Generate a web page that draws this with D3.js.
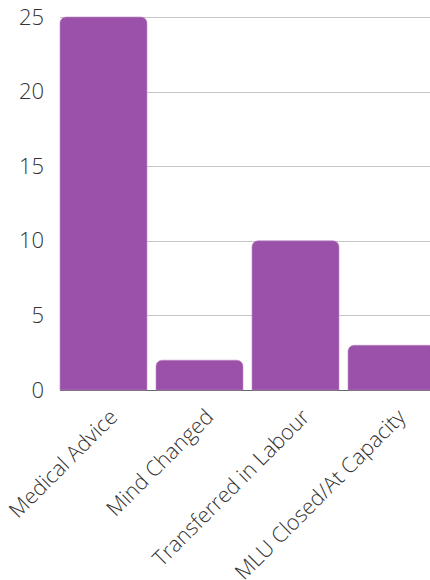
<!DOCTYPE html>
<html>
<head>
<meta charset="utf-8">
<script src="https://cdn.jsdelivr.net/npm/d3@7"></script>
<style>
  html, body { margin: 0; padding: 0; background: #fff; overflow: hidden; }
  svg { display: block; font-family: "Open Sans", sans-serif; }
</style>
</head>
<body>
<svg id="chart" width="430" height="580"></svg>
<script>
// Reasons for transfer / change of birth place
const categories = ["Medical Advice", "Mind Changed", "Transferred in Labour", "MLU Closed/At Capacity"];
const counts = [25, 2, 10, 3];
const yTicks = [0, 5, 10, 15, 20, 25];

const svg = d3.select("#chart");
const plotLeft = 60, plotRight = 435, plotTop = 17, plotBottom = 390;

const x = d3.scaleBand()
  .domain(categories)
  .range([plotLeft, plotRight])
  .paddingInner(0.094)
  .paddingOuter(0);

const y = d3.scaleLinear().domain([0, 25]).range([plotBottom, plotTop]);

// horizontal gridlines
svg.append("g")
  .selectAll("line")
  .data(yTicks.filter(t => t > 0))
  .join("line")
  .attr("x1", plotLeft).attr("x2", 430)
  .attr("y1", d => Math.round(y(d)) + 0.5)
  .attr("y2", d => Math.round(y(d)) + 0.5)
  .attr("stroke", "#c6c6c6")
  .attr("stroke-width", 1);

// y axis labels
const yAxis = d3.axisLeft(y).tickValues(yTicks).tickSize(0).tickPadding(0);
const yg = svg.append("g").attr("transform", `translate(44,0)`).call(yAxis);
yg.select(".domain").remove();
yg.selectAll("text")
  .attr("font-family", "'Open Sans', sans-serif")
  .attr("font-weight", 300)
  .attr("font-size", 22)
  .attr("fill", "#333");

// bars with rounded top corners
function barPath(x0, w, yTop, yBase, r) {
  const p = d3.path();
  r = Math.min(r, w / 2, yBase - yTop);
  p.moveTo(x0, yBase);
  p.lineTo(x0, yTop + r);
  p.arcTo(x0, yTop, x0 + r, yTop, r);
  p.lineTo(x0 + w - r, yTop);
  p.arcTo(x0 + w, yTop, x0 + w, yTop + r, r);
  p.lineTo(x0 + w, yBase);
  p.closePath();
  return p.toString();
}

// baseline
svg.append("line")
  .attr("x1", plotLeft).attr("x2", 430)
  .attr("y1", plotBottom + 0.5).attr("y2", plotBottom + 0.5)
  .attr("stroke", "#666").attr("stroke-width", 1);

svg.append("g")
  .selectAll("path")
  .data(categories.map((c, i) => ({ c, v: counts[i] })))
  .join("path")
  .attr("d", d => barPath(x(d.c), x.bandwidth(), y(d.v), y(0), 6))
  .attr("fill", "#9b51aa")
  .attr("stroke", "#b98cc3")
  .attr("stroke-width", 0.6);

// rotated category labels
svg.append("g")
  .selectAll("text")
  .data(categories)
  .join("text")
  .attr("transform", d => `translate(${x(d) + x.bandwidth() / 2 + 10},${plotBottom + 23}) rotate(-45)`)
  .attr("text-anchor", "end")
  .attr("dy", "0.35em")
  .attr("font-family", "'Open Sans', sans-serif")
  .attr("font-weight", 300)
  .attr("font-size", 21.5)
  .attr("fill", "#333")
  .text(d => d);
</script>
</body>
</html>
